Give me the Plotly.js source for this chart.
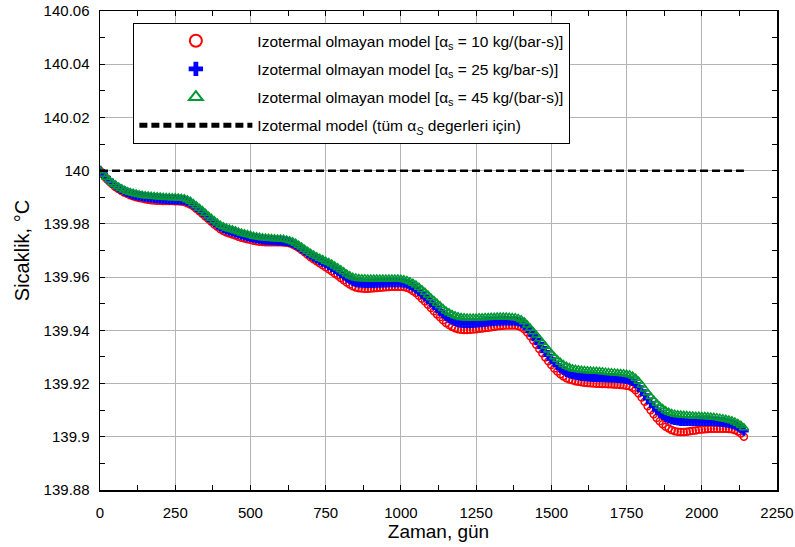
<!DOCTYPE html>
<html>
<head>
<meta charset="utf-8">
<script src="https://cdn.plot.ly/plotly-3.0.1.min.js"></script>
<style>html,body{margin:0;padding:0;background:#fff;}#chart{width:795px;height:547px;}</style>
</head>
<body>
<div id="chart"></div>
<script>
const days = [0,10,20,30,40,50,60,70,80,90,
100,110,120,130,140,150,160,170,180,190,
200,210,220,230,240,250,260,270,280,290,
300,310,320,330,340,350,360,370,380,390,
400,410,420,430,440,450,460,470,480,490,
500,510,520,530,540,550,560,570,580,590,
600,610,620,630,640,650,660,670,680,690,
700,710,720,730,740,750,760,770,780,790,
800,810,820,830,840,850,860,870,880,890,
900,910,920,930,940,950,960,970,980,990,
1000,1010,1020,1030,1040,1050,1060,1070,1080,1090,
1100,1110,1120,1130,1140,1150,1160,1170,1180,1190,
1200,1210,1220,1230,1240,1250,1260,1270,1280,1290,
1300,1310,1320,1330,1340,1350,1360,1370,1380,1390,
1400,1410,1420,1430,1440,1450,1460,1470,1480,1490,
1500,1510,1520,1530,1540,1550,1560,1570,1580,1590,
1600,1610,1620,1630,1640,1650,1660,1670,1680,1690,
1700,1710,1720,1730,1740,1750,1760,1770,1780,1790,
1800,1810,1820,1830,1840,1850,1860,1870,1880,1890,
1900,1910,1920,1930,1940,1950,1960,1970,1980,1990,
2000,2010,2020,2030,2040,2050,2060,2070,2080,2090,
2100,2110,2120,2130,2140];

const temp10 = [140.0000,139.9986,139.9972,139.9960,139.9950,139.9940,139.9932,139.9925,139.9918,139.9913,
139.9908,139.9904,139.9900,139.9897,139.9895,139.9893,139.9891,139.9889,139.9888,139.9887,
139.9887,139.9886,139.9886,139.9886,139.9886,139.9885,139.9885,139.9884,139.9882,139.9878,
139.9873,139.9866,139.9857,139.9848,139.9838,139.9828,139.9818,139.9808,139.9798,139.9789,
139.9780,139.9773,139.9768,139.9764,139.9760,139.9756,139.9752,139.9748,139.9745,139.9742,
139.9740,139.9737,139.9735,139.9733,139.9732,139.9731,139.9731,139.9731,139.9731,139.9731,
139.9731,139.9730,139.9729,139.9727,139.9723,139.9717,139.9710,139.9702,139.9693,139.9684,
139.9675,139.9667,139.9660,139.9652,139.9645,139.9637,139.9630,139.9622,139.9614,139.9606,
139.9597,139.9588,139.9580,139.9572,139.9566,139.9561,139.9558,139.9557,139.9556,139.9556,
139.9557,139.9558,139.9559,139.9560,139.9561,139.9562,139.9563,139.9564,139.9564,139.9564,
139.9564,139.9563,139.9560,139.9555,139.9548,139.9540,139.9530,139.9519,139.9508,139.9496,
139.9484,139.9472,139.9460,139.9449,139.9438,139.9428,139.9420,139.9413,139.9408,139.9404,
139.9402,139.9401,139.9401,139.9402,139.9403,139.9404,139.9406,139.9407,139.9409,139.9410,
139.9412,139.9413,139.9415,139.9416,139.9417,139.9418,139.9418,139.9418,139.9418,139.9416,
139.9412,139.9404,139.9392,139.9378,139.9362,139.9346,139.9330,139.9314,139.9298,139.9284,
139.9270,139.9257,139.9245,139.9235,139.9227,139.9220,139.9215,139.9212,139.9209,139.9207,
139.9205,139.9203,139.9202,139.9201,139.9200,139.9199,139.9199,139.9198,139.9198,139.9197,
139.9197,139.9196,139.9196,139.9195,139.9194,139.9192,139.9190,139.9184,139.9175,139.9163,
139.9148,139.9132,139.9115,139.9100,139.9085,139.9071,139.9058,139.9047,139.9038,139.9031,
139.9025,139.9021,139.9019,139.9018,139.9018,139.9019,139.9021,139.9023,139.9024,139.9026,
139.9027,139.9028,139.9029,139.9030,139.9030,139.9030,139.9030,139.9030,139.9030,139.9029,
139.9028,139.9025,139.9020,139.9012,139.9000];

const temp25 = [140.0000,139.9987,139.9974,139.9963,139.9953,139.9944,139.9937,139.9930,139.9924,139.9919,
139.9914,139.9910,139.9907,139.9905,139.9903,139.9901,139.9899,139.9898,139.9897,139.9896,
139.9895,139.9894,139.9893,139.9892,139.9892,139.9891,139.9891,139.9890,139.9889,139.9885,
139.9880,139.9872,139.9863,139.9854,139.9845,139.9835,139.9825,139.9815,139.9806,139.9797,
139.9789,139.9783,139.9778,139.9774,139.9771,139.9767,139.9763,139.9759,139.9756,139.9753,
139.9750,139.9747,139.9745,139.9743,139.9741,139.9740,139.9739,139.9738,139.9738,139.9737,
139.9737,139.9736,139.9735,139.9732,139.9728,139.9722,139.9715,139.9707,139.9699,139.9691,
139.9683,139.9676,139.9669,139.9663,139.9657,139.9651,139.9644,139.9637,139.9630,139.9623,
139.9615,139.9606,139.9598,139.9591,139.9585,139.9581,139.9579,139.9578,139.9577,139.9577,
139.9577,139.9577,139.9578,139.9578,139.9579,139.9579,139.9580,139.9580,139.9580,139.9580,
139.9580,139.9578,139.9575,139.9570,139.9564,139.9556,139.9547,139.9537,139.9527,139.9516,
139.9505,139.9494,139.9483,139.9472,139.9462,139.9453,139.9445,139.9439,139.9434,139.9430,
139.9428,139.9427,139.9426,139.9426,139.9427,139.9428,139.9429,139.9430,139.9431,139.9432,
139.9433,139.9434,139.9435,139.9435,139.9436,139.9436,139.9436,139.9436,139.9435,139.9433,
139.9428,139.9420,139.9408,139.9395,139.9380,139.9365,139.9350,139.9335,139.9320,139.9306,
139.9292,139.9280,139.9268,139.9258,139.9250,139.9243,139.9238,139.9235,139.9232,139.9230,
139.9228,139.9227,139.9226,139.9225,139.9224,139.9224,139.9223,139.9223,139.9222,139.9222,
139.9221,139.9221,139.9220,139.9219,139.9218,139.9216,139.9214,139.9209,139.9200,139.9188,
139.9173,139.9158,139.9142,139.9128,139.9114,139.9101,139.9090,139.9081,139.9073,139.9068,
139.9064,139.9062,139.9060,139.9059,139.9059,139.9059,139.9059,139.9059,139.9059,139.9059,
139.9059,139.9059,139.9059,139.9059,139.9058,139.9057,139.9056,139.9055,139.9053,139.9051,
139.9048,139.9044,139.9038,139.9031,139.9022];

const temp45 = [140.0000,139.9987,139.9975,139.9965,139.9955,139.9947,139.9940,139.9933,139.9927,139.9922,
139.9918,139.9915,139.9912,139.9910,139.9908,139.9906,139.9905,139.9904,139.9903,139.9902,
139.9901,139.9900,139.9899,139.9899,139.9898,139.9898,139.9897,139.9896,139.9895,139.9891,
139.9885,139.9877,139.9868,139.9859,139.9850,139.9840,139.9830,139.9821,139.9812,139.9803,
139.9795,139.9789,139.9785,139.9781,139.9778,139.9774,139.9770,139.9766,139.9763,139.9760,
139.9757,139.9754,139.9752,139.9750,139.9748,139.9747,139.9746,139.9745,139.9744,139.9743,
139.9743,139.9742,139.9740,139.9737,139.9733,139.9727,139.9720,139.9713,139.9705,139.9697,
139.9690,139.9683,139.9677,139.9671,139.9666,139.9660,139.9655,139.9649,139.9642,139.9635,
139.9628,139.9620,139.9612,139.9605,139.9600,139.9597,139.9595,139.9594,139.9594,139.9593,
139.9593,139.9593,139.9593,139.9593,139.9593,139.9593,139.9593,139.9593,139.9593,139.9593,
139.9592,139.9590,139.9587,139.9583,139.9577,139.9570,139.9562,139.9553,139.9543,139.9533,
139.9522,139.9512,139.9502,139.9492,139.9482,139.9473,139.9466,139.9460,139.9455,139.9451,
139.9448,139.9447,139.9446,139.9446,139.9446,139.9446,139.9447,139.9447,139.9448,139.9448,
139.9449,139.9449,139.9450,139.9450,139.9450,139.9450,139.9449,139.9448,139.9447,139.9445,
139.9440,139.9432,139.9420,139.9408,139.9395,139.9382,139.9368,139.9354,139.9340,139.9326,
139.9313,139.9301,139.9290,139.9280,139.9272,139.9265,139.9260,139.9256,139.9254,139.9252,
139.9250,139.9249,139.9248,139.9247,139.9246,139.9246,139.9245,139.9244,139.9243,139.9242,
139.9241,139.9240,139.9239,139.9238,139.9237,139.9235,139.9233,139.9228,139.9220,139.9209,
139.9195,139.9180,139.9165,139.9151,139.9138,139.9126,139.9115,139.9106,139.9098,139.9092,
139.9088,139.9085,139.9083,139.9082,139.9081,139.9080,139.9079,139.9078,139.9077,139.9077,
139.9076,139.9076,139.9075,139.9074,139.9073,139.9072,139.9070,139.9068,139.9066,139.9063,
139.9060,139.9056,139.9050,139.9043,139.9034];

const isoDays = [0, 2140];
const isoTemp = [140, 140];

const names = [
  'Izotermal olmayan model [α<sub>s</sub> = 10 kg/(bar-s)]',
  'Izotermal olmayan model [α<sub>s</sub> = 25 kg/bar-s)]',
  'Izotermal olmayan model [α<sub>s</sub> = 45 kg/(bar-s)]',
  'Izotermal model (tüm α<sub><i>S</i></sub> degerleri için)'
];

const xTicks = [0,250,500,750,1000,1250,1500,1750,2000,2250];
const yTicks = [139.88,139.9,139.92,139.94,139.96,139.98,140,140.02,140.04,140.06];
const yTickText = ['139.88','139.9','139.92','139.94','139.96','139.98','140','140.02','140.04','140.06'];

const FONT = 'Liberation Sans, Arial, Helvetica, sans-serif';

const data = [
  {x: days, y: temp10, name: names[0], type: 'scatter', mode: 'markers', legendgroup: 'a',
   marker: {symbol: 'circle-open', size: 7, color: '#ff0000', line: {width: 1.5, color: '#ff0000'}}},
  {x: days, y: temp25, name: names[1], type: 'scatter', mode: 'markers', legendgroup: 'b',
   marker: {symbol: 'cross', size: 8, color: '#0000ff', line: {width: 0}}},
  {x: days, y: temp45, name: names[2], type: 'scatter', mode: 'markers', legendgroup: 'c',
   marker: {symbol: 'triangle-up-open', size: 8, color: '#009933', line: {width: 1.5, color: '#009933'}}},
  {x: isoDays, y: isoTemp, name: names[3], type: 'scatter', mode: 'lines', legendgroup: 'd',
   line: {color: '#000000', width: 2.5, dash: '8px,4px'}}
];

const layout = {
  width: 795, height: 547,
  margin: {l: 100, r: 18, t: 11, b: 57, pad: 0},
  paper_bgcolor: '#ffffff', plot_bgcolor: '#ffffff',
  font: {family: FONT, size: 15, color: '#000'},
  showlegend: true,
  legend: {
    x: 0.049, y: 0.975, xanchor: 'left', yanchor: 'top',
    bgcolor: '#ffffff', bordercolor: '#000000', borderwidth: 1.2,
    font: {family: FONT, size: 15.5, color: '#000'},
    itemwidth: 113, itemsizing: 'constant',
    traceorder: 'grouped', tracegroupgap: 5
  },
  xaxis: {
    range: [0, 2250], tickvals: xTicks, ticktext: xTicks.map(String),
    showgrid: true, gridcolor: '#b4b4b4', gridwidth: 1,
    zeroline: false, showline: true, linecolor: '#000', linewidth: 1.5, mirror: 'ticks',
    ticks: 'inside', ticklen: 5, tickcolor: '#000', tickwidth: 1,
    minor: {dtick: 125, tick0: 0, ticks: 'inside', ticklen: 5, tickcolor: '#000', showgrid: false},
    ticklabelstandoff: 8,
    tickfont: {family: FONT, size: 15},
    title: {text: 'Zaman, gün', font: {family: FONT, size: 19}, standoff: 5}
  },
  yaxis: {
    range: [139.88, 140.06], tickvals: yTicks, ticktext: yTickText,
    showgrid: true, gridcolor: '#b4b4b4', gridwidth: 1,
    zeroline: false, showline: true, linecolor: '#000', linewidth: 1.5, mirror: 'ticks',
    ticks: 'inside', ticklen: 5, tickcolor: '#000', tickwidth: 1,
    minor: {dtick: 0.01, tick0: 139.88, ticks: 'inside', ticklen: 5, tickcolor: '#000', showgrid: false},
    ticklabelstandoff: 6,
    tickfont: {family: FONT, size: 15},
    title: {text: 'Sicaklik, °C', font: {family: FONT, size: 20}, standoff: 8}
  }
};

Plotly.newPlot('chart', data, layout, {displayModeBar: false, staticPlot: true});
</script>
</body>
</html>
